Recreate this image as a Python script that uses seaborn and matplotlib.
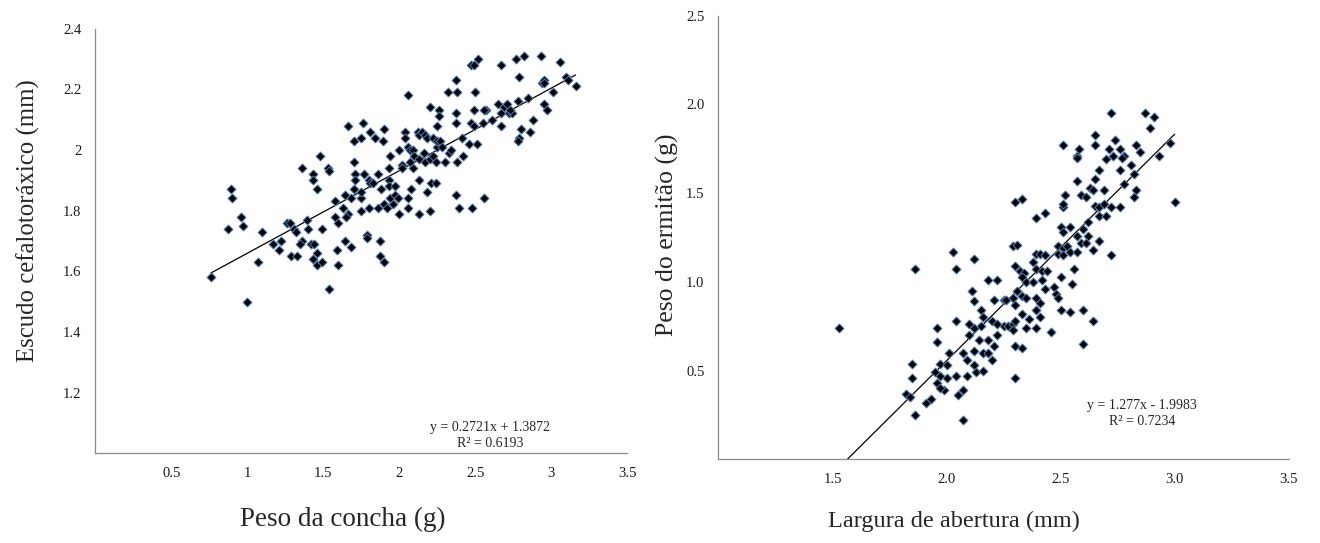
import matplotlib
matplotlib.use("Agg")
import matplotlib.pyplot as plt
import numpy as np
import pandas as pd
import seaborn as sns
from matplotlib.ticker import FixedLocator, FuncFormatter

# --- Shell weight vs cephalothoracic shield --------------------------------
concha_peso = [
    0.76, 0.89, 0.90, 0.87, 0.96, 0.97, 1.00, 1.07, 1.10, 1.17, 1.22, 1.21, 1.26, 1.28,
    1.31, 1.32, 1.29, 1.33, 1.36, 1.35, 1.39, 1.40, 1.42, 1.44, 1.46, 1.43, 1.46, 1.49,
    1.49, 1.54, 1.36, 1.43, 1.43, 1.48, 1.46, 1.53, 1.54, 1.59, 1.60, 1.64, 1.68, 1.58,
    1.58, 1.60, 1.63, 1.64, 1.66, 1.65, 1.68, 1.70, 1.70, 1.71, 1.71, 1.75, 1.75, 1.75,
    1.77, 1.80, 1.79, 1.79, 1.80, 1.81, 1.83, 1.86, 1.86, 1.87, 1.87, 1.90, 1.88, 1.90,
    1.92, 1.93, 1.93, 1.94, 1.93, 1.94, 1.96, 1.97, 1.97, 1.99, 2.00, 2.00, 2.02, 2.02,
    2.04, 2.04, 2.06, 2.07, 2.07, 2.06, 2.06, 2.08, 2.09, 2.09, 2.10, 2.12, 2.13, 2.13,
    2.13, 2.13, 2.15, 2.16, 2.17, 2.17, 2.18, 2.18, 2.20, 2.20, 2.21, 2.22, 2.22, 2.24,
    2.24, 2.25, 2.25, 2.26, 2.20, 2.25, 2.26, 2.27, 2.28, 2.30, 2.33, 2.34, 2.06, 1.66,
    1.76, 1.81, 1.84, 1.89, 1.90, 1.70, 1.75, 2.32, 2.37, 2.38, 2.37, 2.37, 2.37, 2.39,
    2.41, 2.38, 2.42, 2.46, 2.47, 2.48, 2.49, 2.50, 2.49, 2.51, 2.47, 2.49, 2.52, 2.55,
    2.56, 2.57, 2.56, 2.61, 2.65, 2.67, 2.67, 2.67, 2.69, 2.71, 2.72, 2.74, 2.77, 2.78,
    2.79, 2.80, 2.79, 2.78, 2.82, 2.85, 2.86, 2.88, 2.93, 2.94, 2.95, 2.95, 2.97, 3.01,
    3.06, 3.10, 3.11, 3.16, 2.73, 2.95,
]
escudo = [
    1.58, 1.87, 1.84, 1.74, 1.78, 1.75, 1.50, 1.63, 1.73, 1.69, 1.70, 1.67, 1.76, 1.76,
    1.74, 1.73, 1.65, 1.65, 1.70, 1.69, 1.77, 1.74, 1.69, 1.69, 1.66, 1.64, 1.62, 1.63,
    1.74, 1.54, 1.94, 1.92, 1.90, 1.98, 1.87, 1.94, 1.93, 1.67, 1.62, 1.70, 1.68, 1.83,
    1.78, 1.76, 1.81, 1.85, 1.79, 1.78, 1.84, 1.87, 1.96, 1.92, 1.90, 1.84, 1.80, 1.86,
    1.92, 1.81, 1.72, 1.71, 1.90, 1.89, 1.89, 1.81, 1.92, 1.70, 1.65, 1.63, 1.87, 1.82,
    1.81, 1.90, 1.88, 1.98, 1.94, 1.84, 1.82, 1.88, 1.85, 1.84, 1.79, 2.00, 1.95, 1.94,
    2.06, 2.04, 2.01, 2.00, 1.96, 1.84, 1.81, 1.87, 1.94, 2.00, 1.98, 2.06, 2.05, 1.97,
    1.90, 1.79, 2.06, 1.99, 2.05, 1.96, 2.04, 1.86, 1.80, 1.97, 1.89, 2.04, 1.98, 1.89,
    1.96, 2.01, 2.03, 2.13, 2.14, 2.08, 2.11, 2.03, 2.01, 1.96, 1.99, 2.00, 2.18, 2.08,
    2.09, 2.06, 2.04, 2.03, 2.07, 2.03, 2.04, 2.19, 2.23, 2.19, 2.12, 2.09, 1.85, 1.81,
    2.04, 1.96, 1.98, 2.02, 2.09, 1.81, 2.13, 2.19, 2.08, 2.02, 2.28, 2.28, 2.30, 2.09,
    1.84, 2.13, 2.13, 2.10, 2.15, 2.12, 2.28, 2.08, 2.14, 2.15, 2.12, 2.12, 2.30, 2.16,
    2.24, 2.07, 2.04, 2.03, 2.31, 2.17, 2.06, 2.10, 2.31, 2.22, 2.23, 2.15, 2.13, 2.19,
    2.29, 2.24, 2.23, 2.21, 2.13, 2.22,
]
coef_esq = (0.2721, 1.3872)
r2_esq = 0.6193

# --- Aperture width vs hermit crab weight -----------------------------------
abertura = [
    2.72, 2.87, 2.91, 2.89, 2.65, 2.51, 2.58, 2.65, 2.74, 2.71, 2.76, 2.83, 2.85, 2.78,
    2.73, 2.57, 2.57, 2.70, 2.77, 2.93, 2.98, 2.81, 2.76, 2.67, 2.82, 2.65, 2.57, 2.78,
    2.52, 2.59, 2.61, 2.63, 2.64, 2.69, 2.83, 2.82, 3.00, 2.51, 2.51, 2.65, 2.67, 2.69,
    2.72, 2.76, 2.67, 2.70, 2.39, 2.43, 2.30, 2.33, 2.62, 2.50, 2.54, 2.51, 2.60, 2.62,
    2.57, 2.59, 2.61, 2.64, 2.67, 2.72, 2.49, 2.51, 2.53, 2.54, 2.57, 2.49, 2.51, 2.29,
    2.31, 2.39, 2.41, 2.43, 2.38, 2.03, 2.12, 1.86, 2.04, 2.30, 2.32, 2.34, 2.39, 2.42,
    2.44, 2.56, 2.33, 2.35, 2.38, 2.42, 2.43, 2.47, 2.50, 2.55, 2.18, 2.22, 2.11, 2.31,
    2.29, 2.30, 2.33, 2.35, 2.39, 2.41, 2.48, 2.49, 2.50, 2.54, 2.60, 2.64, 2.21, 2.25,
    2.26, 2.12, 2.04, 1.96, 2.10, 2.12, 2.15, 2.16, 2.15, 2.20, 2.22, 2.25, 2.27, 2.29,
    2.29, 2.30, 2.33, 2.36, 2.41, 2.39, 2.35, 2.39, 2.46, 2.60, 1.96, 2.01, 2.07, 2.09,
    2.12, 2.16, 2.18, 2.20, 2.22, 2.21, 2.30, 2.33, 2.14, 2.10, 2.18, 1.85, 1.97, 2.00,
    2.04, 2.09, 2.13, 2.16, 2.12, 1.85, 1.95, 1.97, 2.00, 1.96, 1.99, 1.97, 1.82, 1.84,
    1.91, 1.93, 2.07, 2.05, 1.86, 2.07, 2.30, 1.53,
]
peso_ermitao = [
    1.95, 1.95, 1.93, 1.87, 1.83, 1.77, 1.75, 1.77, 1.80, 1.75, 1.75, 1.77, 1.73, 1.71,
    1.71, 1.71, 1.70, 1.69, 1.70, 1.71, 1.78, 1.66, 1.63, 1.63, 1.61, 1.58, 1.57, 1.55,
    1.49, 1.49, 1.48, 1.53, 1.52, 1.52, 1.52, 1.48, 1.45, 1.42, 1.44, 1.43, 1.42, 1.44,
    1.42, 1.42, 1.37, 1.37, 1.36, 1.39, 1.45, 1.47, 1.34, 1.31, 1.31, 1.28, 1.30, 1.26,
    1.26, 1.22, 1.22, 1.18, 1.23, 1.15, 1.20, 1.19, 1.20, 1.17, 1.17, 1.16, 1.15, 1.20,
    1.21, 1.16, 1.16, 1.15, 1.11, 1.17, 1.13, 1.07, 1.07, 1.09, 1.06, 1.05, 1.07, 1.06,
    1.06, 1.07, 1.03, 1.00, 1.00, 1.01, 0.96, 0.97, 1.03, 0.99, 1.01, 1.01, 0.95, 0.95,
    0.91, 0.87, 0.92, 0.91, 0.91, 0.88, 0.93, 0.91, 0.84, 0.83, 0.84, 0.78, 0.90, 0.90,
    0.90, 0.89, 0.78, 0.74, 0.76, 0.74, 0.84, 0.80, 0.75, 0.78, 0.76, 0.75, 0.75, 0.76,
    0.73, 0.78, 0.82, 0.79, 0.80, 0.84, 0.74, 0.74, 0.72, 0.65, 0.66, 0.60, 0.60, 0.56,
    0.61, 0.60, 0.60, 0.56, 0.70, 0.64, 0.64, 0.63, 0.67, 0.70, 0.67, 0.54, 0.54, 0.53,
    0.47, 0.47, 0.49, 0.50, 0.53, 0.46, 0.49, 0.47, 0.46, 0.43, 0.39, 0.40, 0.37, 0.35,
    0.32, 0.34, 0.39, 0.36, 0.25, 0.22, 0.46, 0.74,
]
coef_dir = (1.277, -1.9983)
r2_dir = 0.7234

# --- Figure ------------------------------------------------------------------
sns.set_style("white")
plt.rcParams["font.family"] = ["Liberation Serif", "DejaVu Serif"]

fig = plt.figure(figsize=(13.2, 5.43), dpi=100)
ax1 = fig.add_axes([0.0722, 0.1652, 0.4030, 0.7823])
ax2 = fig.add_axes([0.5443, 0.1541, 0.4320, 0.8169])

spine_col = "#8a8a8a"
mark_kw = dict(marker="D", s=21, color="black", edgecolor="#4f81bd", linewidth=0.7, zorder=3)


def style_axes(ax):
    for side in ("top", "right"):
        ax.spines[side].set_visible(False)
    for side in ("left", "bottom"):
        ax.spines[side].set_color(spine_col)
        ax.spines[side].set_linewidth(0.9)
    ax.tick_params(axis="both", direction="out", length=5, width=0.9, color=spine_col,
                   labelsize=10.5, labelcolor="#1a1a1a")
    ax.tick_params(axis="x", pad=5)
    ax.tick_params(axis="y", pad=5)
    ax.grid(False)


# Left panel
df1 = pd.DataFrame({"x": concha_peso, "y": escudo})
sns.scatterplot(data=df1, x="x", y="y", ax=ax1, **mark_kw)
xs1 = np.array([min(concha_peso), max(concha_peso)])
ax1.plot(xs1, coef_esq[0] * xs1 + coef_esq[1], color="black", linewidth=0.9, zorder=2)
ax1.set_xlim(0, 3.5)
ax1.set_ylim(1.0, 2.4)
ax1.xaxis.set_major_locator(FixedLocator(np.arange(0, 3.51, 0.5)))
ax1.yaxis.set_major_locator(FixedLocator(np.arange(1.0, 2.41, 0.2)))
ax1.xaxis.set_major_formatter(FuncFormatter(lambda v, p: "" if abs(v) < 1e-9 else f"{v:g}"))
ax1.yaxis.set_major_formatter(FuncFormatter(lambda v, p: "" if abs(v - 1) < 1e-9 else f"{round(v, 1):g}"))
style_axes(ax1)
ax1.set_xlabel("Peso da concha (g)", fontsize=19.5, va="center")
ax1.set_ylabel("Escudo cefalotoráxico (mm)", fontsize=17.8, va="center")
ax1.xaxis.set_label_coords(0.4656, -0.1547)
ax1.yaxis.set_label_coords(-0.1265, 0.5468)
ax1.text(0.742, 0.0619, f"y = {coef_esq[0]}x + {coef_esq[1]}", transform=ax1.transAxes,
         ha="center", va="center", fontsize=10)
ax1.text(0.742, 0.0242, f"R² = {r2_esq}", transform=ax1.transAxes,
         ha="center", va="center", fontsize=10)

# Right panel
df2 = pd.DataFrame({"x": abertura, "y": peso_ermitao})
sns.scatterplot(data=df2, x="x", y="y", ax=ax2, **mark_kw)
x0 = -coef_dir[1] / coef_dir[0]
xs2 = np.array([x0, max(abertura)])
ax2.plot(xs2, coef_dir[0] * xs2 + coef_dir[1], color="black", linewidth=0.9, zorder=2)
ax2.set_xlim(1.0, 3.5)
ax2.set_ylim(0, 2.5)
ax2.xaxis.set_major_locator(FixedLocator(np.arange(1.0, 3.51, 0.5)))
ax2.yaxis.set_major_locator(FixedLocator(np.arange(0, 2.51, 0.5)))
ax2.xaxis.set_major_formatter(FuncFormatter(lambda v, p: "" if abs(v - 1) < 1e-9 else f"{v:.1f}"))
ax2.yaxis.set_major_formatter(FuncFormatter(lambda v, p: "" if abs(v) < 1e-9 else f"{v:.1f}"))
style_axes(ax2)
ax2.set_xlabel("Largura de abertura (mm)", fontsize=17.5, va="center")
ax2.set_ylabel("Peso do ermitão (g)", fontsize=18.5, va="center")
ax2.xaxis.set_label_coords(0.413, -0.139)
ax2.yaxis.set_label_coords(-0.0886, 0.5056)
ax2.text(0.7427, 0.1224, f"y = {coef_dir[0]}x - {abs(coef_dir[1])}", transform=ax2.transAxes,
         ha="center", va="center", fontsize=10)
ax2.text(0.7427, 0.0863, f"R² = {r2_dir}", transform=ax2.transAxes,
         ha="center", va="center", fontsize=10)

fig.savefig("out.png", dpi=100)
